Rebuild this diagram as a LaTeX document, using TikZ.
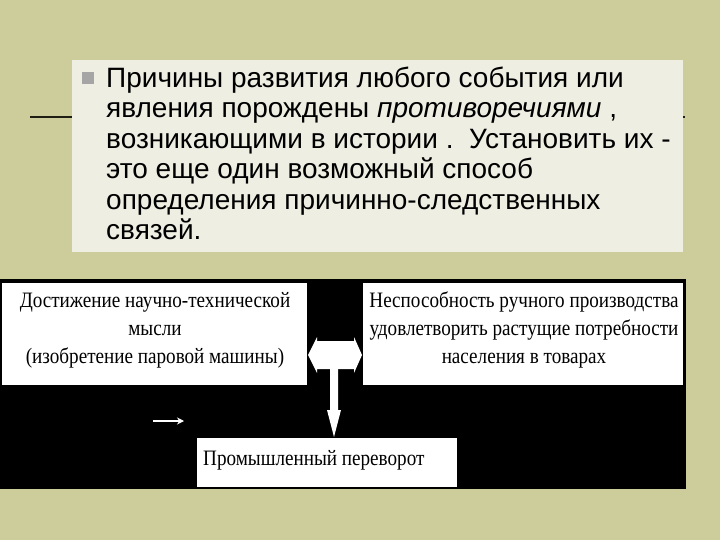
\documentclass[tikz,border=0pt]{standalone}
\usepackage{fontspec}
\setmainfont{Liberation Serif}[FakeStretch=0.87]
\newfontfamily\topfont{Liberation Sans}
\usetikzlibrary{arrows.meta}
\definecolor{bg}{RGB}{205,205,156}
\definecolor{paper}{RGB}{238,238,226}
\definecolor{bulletgray}{RGB}{165,165,165}
\definecolor{rule}{RGB}{30,30,20}
\tikzset{
  topline/.style={anchor=base west, inner sep=0pt, font=\topfont\fontsize{28}{30}\selectfont},
  boxtext/.style={anchor=base, inner sep=0pt, font=\fontsize{22}{28}\selectfont},
  whitebox/.style={fill=white, draw=none, inner sep=0pt, anchor=north west},
}
\begin{document}
\begin{tikzpicture}[x=1pt, y=-1pt]
\useasboundingbox (0,0) rectangle (720,540);
\fill[bg] (0,0) rectangle (720,540);
% horizontal rule behind the text panel
\coordinate (ruleL) at (30,117);
\coordinate (ruleR) at (685,117);
\draw[rule, line width=1.4pt] (ruleL) -- (ruleR);
% text panel
\node[fill=paper, inner sep=0pt, anchor=north west, minimum width=611pt, minimum height=192pt] (panel) at (72,60) {};
\node[fill=bulletgray, inner sep=0pt, anchor=north west, minimum width=12pt, minimum height=12pt] (bul) at (82,72) {};
\node[topline] (t1) at (106,87.5) {Причины развития любого события или};
\node[topline] (t2) at (106,118) {явления порождены \textit{противоречиями} ,};
\node[topline] (t3) at (106,148.5) {возникающими в истории .\ \ Установить их -};
\node[topline] (t4) at (106,179) {это еще один возможный способ};
\node[topline] (t5) at (106,209.5) {определения причинно-следственных};
\node[topline] (t6) at (106,240) {связей.};
% black diagram field
\node[fill=black, inner sep=0pt, anchor=north west, minimum width=686pt, minimum height=210pt] (field) at (0,279) {};
\node[whitebox, minimum width=305pt, minimum height=102pt] (left) at (2,283) {};
\node[whitebox, minimum width=320pt, minimum height=102pt] (right) at (363,283) {};
\node[whitebox, minimum width=260pt, minimum height=49pt] (bottom) at (197,438) {};
\node[boxtext] (l1) at (155,307) {Достижение научно-технической};
\node[boxtext] (l2) at (155,335) {мысли};
\node[boxtext] (l3) at (155,363.5) {(изобретение паровой машины)};
\node[boxtext] (r1) at (524,307) {Неспособность ручного производства};
\node[boxtext] (r2) at (524,335) {удовлетворить растущие потребности};
\node[boxtext] (r3) at (524,363.5) {населения в товарах};
\node[boxtext, anchor=base west] (b1) at (203,465) {Промышленный переворот};
% block arrows
\fill[white] (308,355) -- (317,337) -- (317,341) -- (354,341) -- (354,337) -- (362,355)
  -- (354,373) -- (354,369) -- (317,369) -- (317,373) -- cycle;
\fill[white] (330,368) -- (338,368) -- (338,410) -- (341,410) -- (334,437) -- (327,410) -- (330,410) -- cycle;
% small arrow
\coordinate (sa1) at (153,421);
\coordinate (sa2) at (184,421);
\draw[white, line width=1.2pt, -{Stealth[length=7pt,width=7pt]}] (sa1) -- (sa2);
\end{tikzpicture}
\end{document}
